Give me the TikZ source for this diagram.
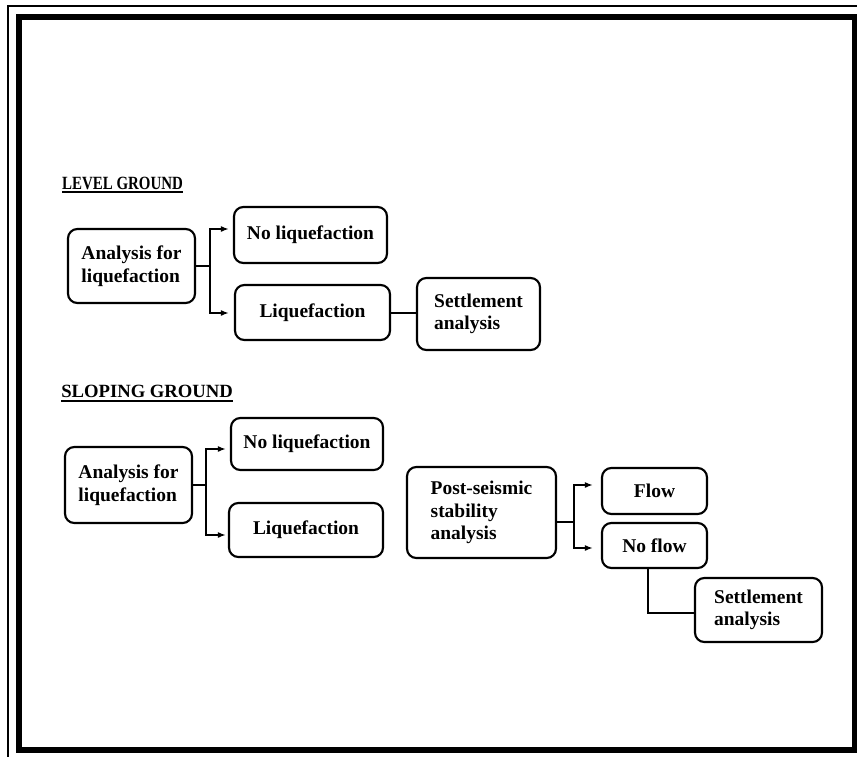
\documentclass[tikz,border=0pt]{standalone}
\usepackage{fontspec}
\setmainfont{Liberation Serif}
\usetikzlibrary{arrows.meta,calc}
\newdimen\px \px=0.75pt
\begin{document}
\begin{tikzpicture}[x=0.75pt,y=-0.75pt,
  box/.style={draw, line width=1.6pt, rounded corners=7pt, align=left, inner sep=0pt,
              font=\bfseries\fontsize{14.6}{17}\selectfont},
  link/.style={line width=1.5pt},
  arr/.style={link, -{Latex[length=6pt,width=4.5pt]}},
  heading/.style={anchor=base west, inner sep=0pt, font=\bfseries\fontsize{14}{16}\selectfont},
  uline/.style={line width=1.4pt},
]
\useasboundingbox (0,0) rectangle (857,757);
% frame
\draw[line width=0.8pt] (8,757) -- (8,6) -- (857,6);
\draw[line width=4.5pt] (19,17) rectangle (855,750);

% headings
\node[heading, xscale=0.8, transform shape] (h1) at (62,189) {LEVEL GROUND};
\draw[uline] ($(h1.base west)+(0,3)$) -- ($(h1.base east)+(0,3)$);
\node[heading] (h2) at (61,397) {SLOPING GROUND};
\draw[uline] ($(h2.base west)+(0,4)$) -- ($(h2.base east)+(0,4)$);

% level ground
\node[box, minimum width=127\px, minimum height=74\px] (A1) at (131.5,266) {Analysis for\\liquefaction};
\node[box, minimum width=153\px, minimum height=56\px] (N1) at (310.5,235) {No liquefaction};
\node[box, minimum width=155\px, minimum height=55\px] (L1) at (312.5,312.5) {Liquefaction};
\node[box, minimum width=123\px, minimum height=72\px] (S1) at (478.5,314) {Settlement\\analysis};

\coordinate (b1) at (210,266);
\draw[link] (A1.east) -- (b1);
\draw[arr] (b1) |- ($(N1.west)+(-4,-6)$);
\draw[arr] (b1) |- ($(L1.west)+(-5,0.5)$);
\draw[link] (L1.east) -- (L1.east -| S1.west);

% sloping ground
\node[box, minimum width=127\px, minimum height=76\px] (A2) at (128.5,485) {Analysis for\\liquefaction};
\node[box, minimum width=152\px, minimum height=52\px] (N2) at (307,444) {No liquefaction};
\node[box, minimum width=154\px, minimum height=54\px] (L2) at (306,530) {Liquefaction};
\node[box, minimum width=149\px, minimum height=91\px] (P) at (481.5,512.5) {Post-seismic\\stability\\analysis};
\node[box, minimum width=105\px, minimum height=46\px] (F) at (654.5,491) {Flow};
\node[box, minimum width=105\px, minimum height=45\px] (NF) at (654.5,545.5) {No flow};
\node[box, minimum width=127\px, minimum height=64\px] (S2) at (758.5,610) {Settlement\\analysis};

\coordinate (b2) at (206,485);
\draw[link] (A2.east) -- (b2);
\draw[arr] (b2) |- ($(N2.west)+(-4,5)$);
\draw[arr] (b2) |- ($(L2.west)+(-2,5)$);
\draw[link] ($(L2.east)+(0,2)$) -- ($(L2.east)+(0,2)$ -| P.west);

\coordinate (b3) at (574,522);
\draw[link] ($(P.east)+(0,9.5)$) -- (b3);
\draw[arr] (b3) |- ($(F.west)+(-8,-6)$);
\draw[arr] (b3) |- ($(NF.west)+(-8,2.5)$);
\draw[link] ($(NF.south)+(-6.5,0)$) |- ($(S2.west)+(0,3)$);
\end{tikzpicture}
\end{document}
